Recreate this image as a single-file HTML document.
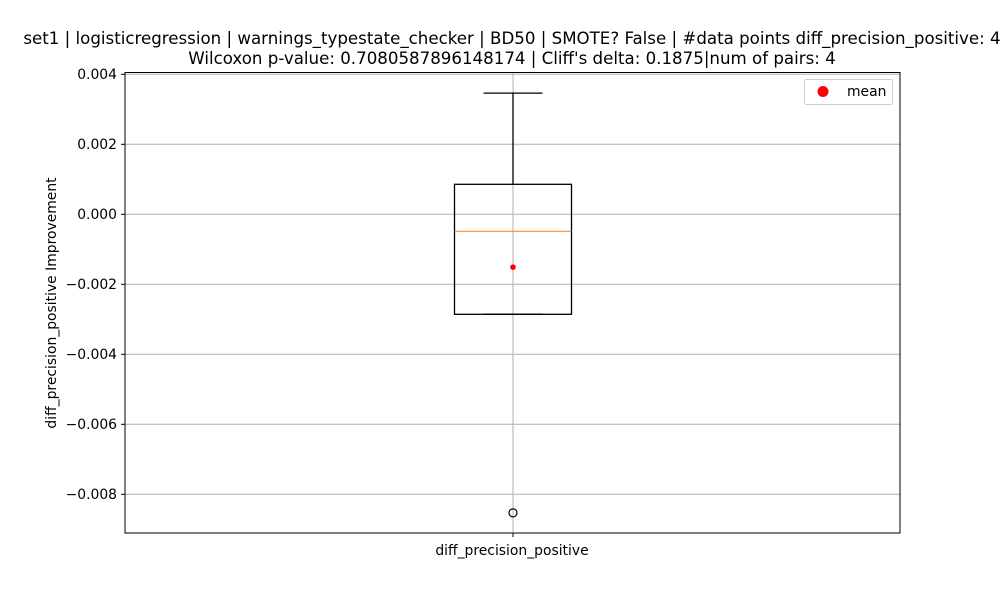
<!DOCTYPE html>
<html><head><meta charset="utf-8"><style>
body{margin:0;background:#fff;font-family:"Liberation Sans","DejaVu Sans",sans-serif}
</style></head><body>
<svg id="chart" width="1000" height="600" viewBox="0 0 1000 600" xmlns="http://www.w3.org/2000/svg" font-family="DejaVu Sans, Liberation Sans, sans-serif">
<rect width="1000" height="600" fill="#fff"/>
<text x="512" y="44" font-size="16.65" text-anchor="middle">set1 | logisticregression | warnings_typestate_checker | BD50 | SMOTE? False | #data points diff_precision_positive: 4</text>
<text x="512" y="64" font-size="16.65" text-anchor="middle">Wilcoxon p-value: 0.7080587896148174 | Cliff's delta: 0.1875|num of pairs: 4</text>
<g id="grid"></g>
<g id="yticks"></g>
<g id="box"></g>
<rect x="125" y="72.5" width="775" height="460.5" fill="none" stroke="#000" stroke-width="1"/>
<text transform="translate(56,303) rotate(-90)" font-size="13.9" text-anchor="middle">diff_precision_positive Improvement</text>
<text x="512" y="555" font-size="13.9" text-anchor="middle">diff_precision_positive</text>
<line x1="513" y1="533" x2="513" y2="537" stroke="#000"/>
<g>
<rect x="804.5" y="79.5" width="88" height="25" rx="2" fill="#fff" stroke="#ccc"/>
<circle cx="823" cy="91.5" r="5.5" fill="red"/>
<text x="847" y="96" font-size="13.9">mean</text>
</g>
</svg>
<script>
const yTicks=[0.004,0.002,0,-0.002,-0.004,-0.006,-0.008];
const yTickLabels=["0.004","0.002","0.000","\u22120.002","\u22120.004","\u22120.006","\u22120.008"];
const categories=["diff_precision_positive"];
const q1=[-0.002857];
const q3=[0.000857];
const median=[-0.000486];
const whiskerLow=[-0.002857];
const whiskerHigh=[0.003463];
const meanVals=[-0.00151];
const outliers=[[-0.00853]];
const ns="http://www.w3.org/2000/svg";
const Y=v=>214.3-v*35000;
const X=i=>513+i*0;
function mk(t,a,p){const e=document.createElementNS(ns,t);for(const k in a)e.setAttribute(k,a[k]);p.appendChild(e);return e;}
const grid=document.getElementById('grid'),yt=document.getElementById('yticks'),bx=document.getElementById('box');
yTicks.forEach((v,i)=>{
 const g=mk('line',{x1:125,x2:900,y1:Y(v),y2:Y(v),stroke:'#b0b0b0','stroke-width':1},grid);
 
 
 mk('line',{x1:121,x2:125,y1:Y(v),y2:Y(v),stroke:'#000'},yt);
 const t=mk('text',{x:117,y:Y(v)+4.8,'font-size':13.9,'text-anchor':'end'},yt);
 t.textContent=yTickLabels[i];
 
 
});
categories.forEach((c,i)=>{
 const cx=X(i);
 const vg=mk('line',{x1:cx,x2:cx,y1:72.5,y2:533,stroke:'#b0b0b0'},grid);
 
 
 const r=mk('rect',{x:cx-58.5,y:Y(q3[i]),width:117,height:Y(q1[i])-Y(q3[i]),fill:'none',stroke:'#000','stroke-width':1.3},bx);
 
 
 const w1=mk('line',{x1:cx,x2:cx,y1:Y(q3[i]),y2:Y(whiskerHigh[i]),stroke:'#000','stroke-width':1.3},bx);
 
 
 const c1=mk('line',{x1:cx-29.5,x2:cx+29.5,y1:Y(whiskerHigh[i]),y2:Y(whiskerHigh[i]),stroke:'#000','stroke-width':1.3},bx);
 
 
 const w2=mk('line',{x1:cx,x2:cx,y1:Y(q1[i]),y2:Y(whiskerLow[i]),stroke:'#000','stroke-width':1.3},bx);
 
 
 const c2=mk('line',{x1:cx-29.5,x2:cx+29.5,y1:Y(whiskerLow[i]),y2:Y(whiskerLow[i]),stroke:'#000','stroke-width':1.3},bx);
 
 
 const m=mk('line',{x1:cx-58.5,x2:cx+58.5,y1:Y(median[i]),y2:Y(median[i]),stroke:'#ff7f0e','stroke-width':1},bx);
 
 
 const mn=mk('circle',{cx:cx,cy:Y(meanVals[i]),r:2.8,fill:'red'},bx);
 
 
 outliers[i].forEach(o=>{
  const oc=mk('circle',{cx:cx,cy:Y(o),r:4,fill:'none',stroke:'#000','stroke-width':1.2},bx);
  
  
 });
});
</script>
</body></html>
